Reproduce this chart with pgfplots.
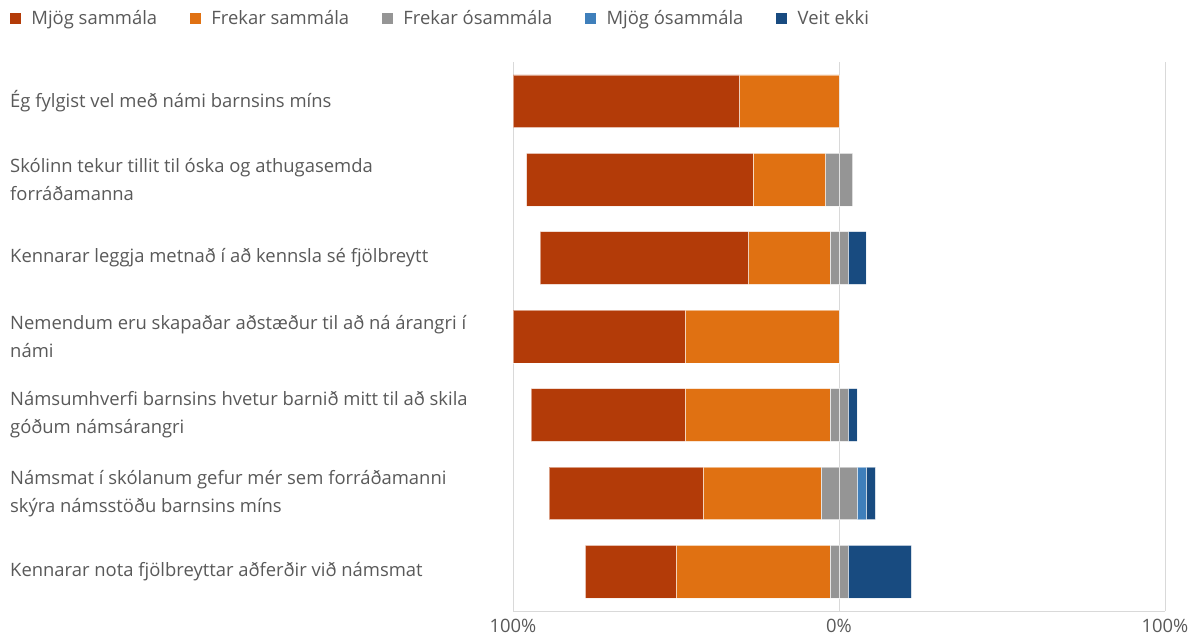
\documentclass[border=0pt]{standalone}
\usepackage{pgfplots}
\usepackage{pgfplotstable}
\pgfplotsset{compat=1.18}
\usepackage{fontspec}
\setmainfont{Open Sans}
\definecolor{c1}{HTML}{B33B08}
\definecolor{c2}{HTML}{E07112}
\definecolor{c3}{HTML}{959595}
\definecolor{c4}{HTML}{3F7FBB}
\definecolor{c5}{HTML}{184B80}
\definecolor{txt}{HTML}{595959}
\definecolor{gridc}{HTML}{D9D9D9}
% x runs 0..200, the 0% line sits at 100; off = 100 - (left part)
\pgfplotstableread{
y off ms fs fo1 fo2 mo ve
0 0 69.44 30.56 0 0 0 0
1 4.17 69.44 22.22 4.17 4.17 0 0
2 8.33 63.89 25.00 2.78 2.78 0 5.56
3 0 52.78 47.22 0 0 0 0
4 5.56 47.22 44.44 2.78 2.78 0 2.78
5 11.11 47.22 36.11 5.56 5.56 2.78 2.78
6 22.22 27.78 47.22 2.78 2.78 0 19.44
}\data
\begin{document}
\begin{tikzpicture}
\useasboundingbox (0,0) rectangle (1198bp,639bp);
\begin{axis}[
 at={(513bp,28bp)}, anchor=south west,
 width=652bp, height=549bp, scale only axis,
 xbar stacked, bar width=0.672,
 xmin=0, xmax=200, ymin=-0.5, ymax=6.5, y dir=reverse,
 xtick={0,100,200}, xticklabels={100\%,0\%,100\%},
 ytick={0,...,6},
 yticklabels={
  {Ég fylgist vel með námi barnsins míns},
  {Skólinn tekur tillit til óska og athugasemda\\forráðamanna},
  {Kennarar leggja metnað í að kennsla sé fjölbreytt},
  {Nemendum eru skapaðar aðstæður til að ná árangri í\\námi},
  {Námsumhverfi barnsins hvetur barnið mitt til að skila\\góðum námsárangri},
  {Námsmat í skólanum gefur mér sem forráðamanni\\skýra námsstöðu barnsins míns},
  {Kennarar nota fjölbreyttar aðferðir við námsmat}},
 xmajorgrids, grid style={gridc, line width=0.75bp},
 axis x line*=bottom, axis y line*=left,
 x axis line style={gridc, line width=0.75bp, -},
 y axis line style={draw=none},
 major tick length=0,
 tick label style={font=\fontsize{18.5}{28}\selectfont, text=txt},
 yticklabel style={anchor=west, align=left, inner sep=0pt, xshift=-503bp},
 xticklabel style={yshift=-5bp},
 every axis plot/.append style={draw=white, draw opacity=0.5, line width=0.5bp},
 legend columns=5,
 legend style={at={(-0.7715,1.080)}, anchor=west, draw=none, fill=none,
   font=\fontsize{18.5}{22}\selectfont, text=txt, inner sep=0pt,
   /tikz/every even column/.append style={column sep=31bp}},
 legend image code/.code={\fill[#1, draw=none] (0bp,-5.5bp) rectangle (11bp,5.5bp); \path (19bp,0bp);},
]
\addplot[draw=none, fill=none, forget plot] table[x=off, y=y]{\data};
\addplot[fill=c1] table[x=ms, y=y]{\data};
\addlegendentry{Mjög sammála}
\addplot[fill=c2] table[x=fs, y=y]{\data};
\addlegendentry{Frekar sammála}
\addplot[fill=c3] table[x=fo1, y=y]{\data};
\addlegendentry{Frekar ósammála}
\addplot[fill=c3, forget plot] table[x=fo2, y=y]{\data};
\addplot[fill=c4] table[x=mo, y=y]{\data};
\addlegendentry{Mjög ósammála}
\addplot[fill=c5] table[x=ve, y=y]{\data};
\addlegendentry{Veit ekki}
\end{axis}
\end{tikzpicture}
\end{document}
